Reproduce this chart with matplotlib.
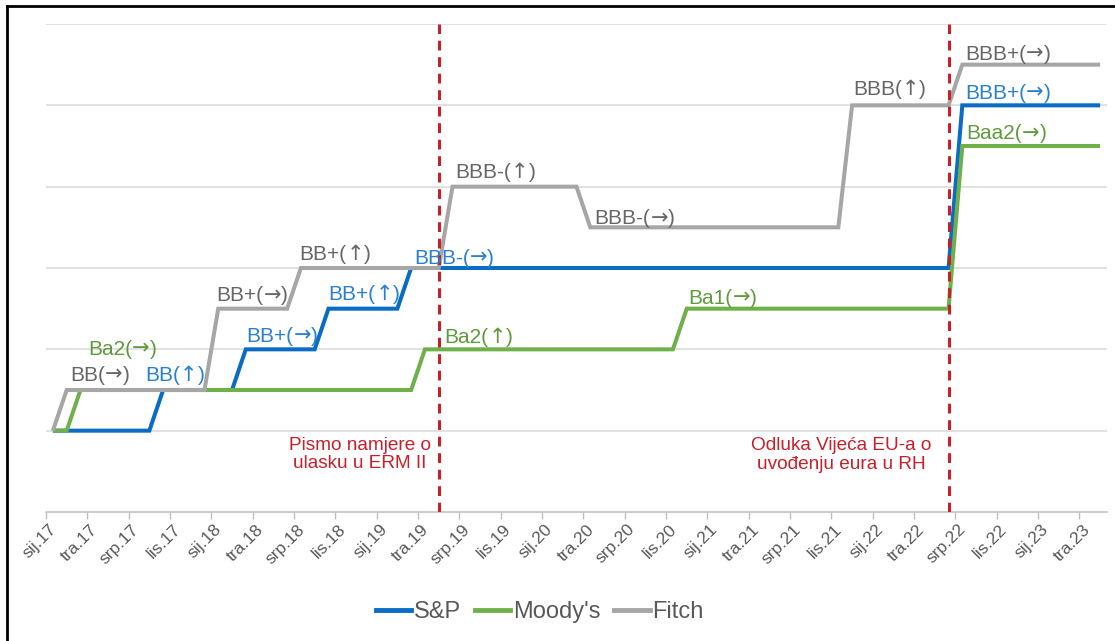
import matplotlib
matplotlib.use("Agg")
import matplotlib.pyplot as plt
from matplotlib.lines import Line2D

plt.rcParams['font.family'] = ['Liberation Sans', 'DejaVu Sans']

# Monthly index 0 = sij.17 (Jan 2017) ... 76 = svi.23
sp = [1, 1, 1, 1, 1, 1, 1, 1,
      1.5, 1.5, 1.5, 1.5, 1.5, 1.5,
      2, 2, 2, 2, 2, 2,
      2.5, 2.5, 2.5, 2.5, 2.5, 2.5,
      3, 3, 3, 3, 3, 3, 3, 3, 3, 3, 3, 3, 3, 3, 3, 3, 3, 3, 3, 3,
      3, 3, 3, 3, 3, 3, 3, 3, 3, 3, 3, 3, 3, 3, 3, 3, 3, 3, 3, 3,
      5, 5, 5, 5, 5, 5, 5, 5, 5, 5, 5]
moodys = [1, 1,
          1.5, 1.5, 1.5, 1.5, 1.5, 1.5, 1.5, 1.5, 1.5, 1.5, 1.5, 1.5, 1.5,
          1.5, 1.5, 1.5, 1.5, 1.5, 1.5, 1.5, 1.5, 1.5, 1.5, 1.5, 1.5,
          2, 2, 2, 2, 2, 2, 2, 2, 2, 2, 2, 2, 2, 2, 2, 2, 2, 2, 2,
          2.5, 2.5, 2.5, 2.5, 2.5, 2.5, 2.5, 2.5, 2.5, 2.5,
          2.5, 2.5, 2.5, 2.5, 2.5, 2.5, 2.5, 2.5, 2.5, 2.5,
          4.5, 4.5, 4.5, 4.5, 4.5, 4.5, 4.5, 4.5, 4.5, 4.5, 4.5]
fitch = [1,
         1.5, 1.5, 1.5, 1.5, 1.5, 1.5, 1.5, 1.5, 1.5, 1.5, 1.5,
         2.5, 2.5, 2.5, 2.5, 2.5, 2.5,
         3, 3, 3, 3, 3, 3, 3, 3, 3, 3, 3,
         4, 4, 4, 4, 4, 4, 4, 4, 4, 4,
         3.5, 3.5, 3.5, 3.5, 3.5, 3.5, 3.5, 3.5, 3.5, 3.5,
         3.5, 3.5, 3.5, 3.5, 3.5, 3.5, 3.5, 3.5, 3.5,
         5, 5, 5, 5, 5, 5, 5, 5,
         5.5, 5.5, 5.5, 5.5, 5.5, 5.5, 5.5, 5.5, 5.5, 5.5, 5.5]

tick_labels = ['sij.17', 'tra.17', 'srp.17', 'lis.17',
               'sij.18', 'tra.18', 'srp.18', 'lis.18',
               'sij.19', 'tra.19', 'srp.19', 'lis.19',
               'sij.20', 'tra.20', 'srp.20', 'lis.20',
               'sij.21', 'tra.21', 'srp.21', 'lis.21',
               'sij.22', 'tra.22', 'srp.22', 'lis.22',
               'sij.23', 'tra.23']

# rating labels: (text, month index, level, series)
labels = [
    ('Ba2(→)', 2.55, 2.0, 'm'),
    ('BB(→)', 1.25, 1.68, 'f'),
    ('BB(↑)', 6.7, 1.68, 's'),
    ('BB+(→)', 11.86, 2.66, 'f'),
    ('BB+(↑)', 17.9, 3.16, 'f'),
    ('BB+(→)', 14.05, 2.16, 's'),
    ('BB+(↑)', 20.0, 2.67, 's'),
    ('BBB-(→)', 26.2, 3.12, 's'),
    ('Ba2(↑)', 28.4, 2.15, 'm'),
    ('BBB-(↑)', 29.2, 4.17, 'f'),
    ('BBB-(→)', 39.3, 3.61, 'f'),
    ('Ba1(→)', 46.1, 2.63, 'm'),
    ('BBB(↑)', 58.05, 5.19, 'f'),
    ('BBB+(→)', 66.2, 5.63, 'f'),
    ('BBB+(→)', 66.2, 5.15, 's'),
    ('Baa2(→)', 66.3, 4.65, 'm'),
]

events = [28.0, 65.05]
event_texts = ['Pismo namjere o\nulasku u ERM II', 'Odluka Vijeća EU-a o\nuvođenju eura u RH']
event_pos = [(22.26, 0.707), (57.2, 0.695)]

line_col = {'s': '#0a6cc4', 'm': '#70b04a', 'f': '#a6a6a6'}
text_col = {'s': '#2a7fd0', 'm': '#5f9a3c', 'f': '#666666'}
red = '#c8202a'

fig = plt.figure(figsize=(11.15, 6.41), dpi=100)
ax = fig.add_axes([46 / 1115, 1 - 512 / 641, (1107 - 46) / 1115, (512 - 24) / 641])

x = list(range(len(sp)))
ax.plot(x, sp, color=line_col['s'], lw=2.9, solid_capstyle='butt', solid_joinstyle='miter', label='S&P', zorder=3)
ax.plot(x, moodys, color=line_col['m'], lw=2.9, solid_capstyle='butt', solid_joinstyle='miter', label="Moody's", zorder=4)
ax.plot(x, fitch, color=line_col['f'], lw=2.9, solid_capstyle='butt', solid_joinstyle='miter', label='Fitch', zorder=5)

for ev in events:
    ax.axvline(ev, color=red, lw=2.2, ls=(0, (3.2, 2.2)), zorder=6)

FS = 15
for t, xi, yi, s in labels:
    pre, rest = t.split('(')
    arrow = rest[0]
    c = text_col[s]
    t1 = ax.text(xi, yi, pre + '(', color=c, fontsize=FS, ha='left', va='center', zorder=7)
    t2 = ax.annotate(arrow, xy=(1, 0), xycoords=t1, ha='left', va='bottom', color=c,
                     fontsize=FS, family='DejaVu Sans', zorder=7)
    ax.annotate(')', xy=(1, 0), xycoords=t2, ha='left', va='bottom', color=c,
                fontsize=FS, zorder=7)

for t, (xi, yi) in zip(event_texts, event_pos):
    ax.text(xi, yi, t, color=red, fontsize=13.7, ha='center', va='center', linespacing=1.15, zorder=7)

ax.set_xlim(-0.5, 76.5)
ax.set_ylim(0, 6)
ax.set_yticks([1, 2, 3, 4, 5, 6])
ax.yaxis.grid(True, color='#d9d9d9', lw=1.1)
ax.set_axisbelow(True)
ax.tick_params(axis='y', length=0, labelleft=False)

ax.set_xticks([-0.3 + 3 * k for k in range(26)])
ax.set_xticklabels(tick_labels, rotation=45, ha='right', va='top', rotation_mode='anchor',
                   fontsize=12.5, color='#595959')
ax.tick_params(axis='x', which='major', length=0, pad=7)
ax.set_xticks([-0.5 + 3 * k for k in range(26)], minor=True)
ax.tick_params(axis='x', which='minor', length=5, color='#bfbfbf', width=1)

for side in ['top', 'right', 'left']:
    ax.spines[side].set_visible(False)
ax.spines['bottom'].set_color('#bfbfbf')
ax.spines['bottom'].set_linewidth(1.1)

handles = [Line2D([], [], color=line_col[k], lw=3.5) for k in ['s', 'm', 'f']]
fig.legend(handles, ['S&P', "Moody's", 'Fitch'], loc='center', bbox_to_anchor=(0.484, 0.045),
           ncol=3, frameon=False, fontsize=17, handlelength=1.5, handletextpad=0.1,
           columnspacing=0.6, labelcolor='#595959')

# outer frame (left and top)
fig.add_artist(Line2D([7 / 1115, 7 / 1115], [0, 1 - 6 / 641], color='black', lw=2, transform=fig.transFigure))
fig.add_artist(Line2D([7 / 1115, 1], [1 - 6 / 641, 1 - 6 / 641], color='black', lw=2, transform=fig.transFigure))

fig.savefig('out.png', dpi=100)
